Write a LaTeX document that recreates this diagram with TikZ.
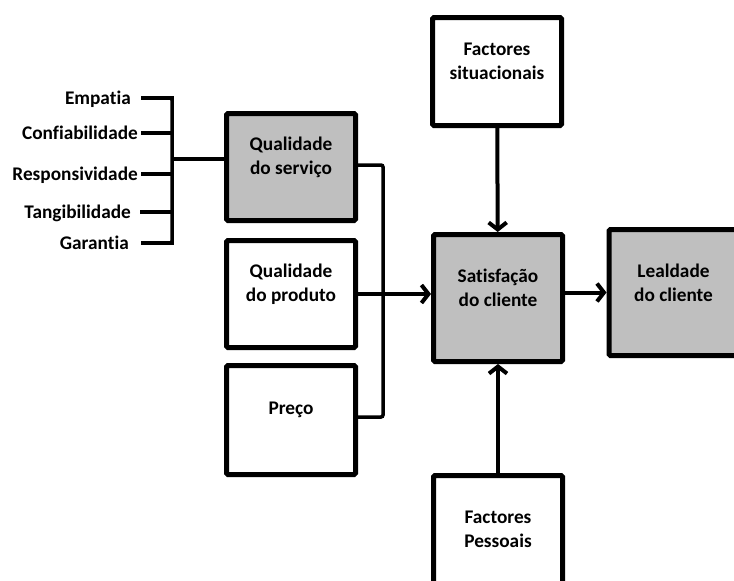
\documentclass[tikz,border=0pt]{standalone}
\usepackage{fontspec}
\setmainfont{Carlito}[Ligatures=NoCommon]
\usetikzlibrary{arrows.meta}
\definecolor{cinza}{HTML}{BFBFBF}
\tikzset{
	blk/.style={draw, line width=5pt, rounded corners=1.5pt, minimum width=129pt, minimum height=#1, inner sep=0pt},
	txt/.style={font=\bfseries\fontsize{19.3}{24}\selectfont, align=center, yshift=10pt},
	atrib/.style={font=\bfseries\fontsize{19.3}{24}\selectfont, anchor=east, inner sep=0pt, text height=14pt, text depth=2pt},
	brk/.style={line width=3.5pt, line cap=rect},
	seta/.style={line width=4pt, -{Straight Barb[length=7pt,width=18pt]}}
}
\begin{document}
\begin{tikzpicture}[x=1pt, y=-1pt]
	\useasboundingbox (0,0) rectangle (734,581);
	\clip (0,0) rectangle (734,581);
	% blocos
	\node[blk=108pt] (sit) at (497,71.5) [label={[txt]center:Factores\\situacionais}] {};
	\node[blk=107pt, fill=cinza] (serv) at (291,167) [label={[txt]center:Qualidade\\do serviço}] {};
	\node[blk=107pt] (prod) at (291,294) [label={[txt]center:Qualidade\\do produto}] {};
	\node[blk=109pt] (preco) at (291,420) [label={[txt]center:Preço}] {};
	\node[blk=127pt, fill=cinza] (sat) at (498,298) [label={[txt]center:Satisfação\\do cliente}] {};
	\node[blk=126pt, fill=cinza] (leal) at (673.5,292.5) [label={[txt]center:Lealdade\\do cliente}] {};
	\node[blk=127pt] (pess) at (498,539) [label={[txt]center:Factores\\Pessoais}] {};
	% dimensoes
	\coordinate (esp) at (172,159);
	\foreach \nome/\txt/\yy/\xe/\gap in {emp/Empatia/98/131/12, con/Confiabilidade/133/138/5, res/Responsividade/174/138/5, tan/Tangibilidade/212/131/11, gar/Garantia/243/129/14}{
		\node[atrib] (\nome) at (\xe,\yy) {\txt};
		\draw[brk] ([xshift=\gap pt]\nome.east) -- (\nome.east -| esp);
	}
	\draw[brk, line cap=butt, rounded corners=2pt] ([xshift=12pt]emp.east) -- (emp.east -| esp) -- (gar.east -| esp) -- ([xshift=14pt]gar.east);
	\draw[brk, line cap=butt] (esp) -- (serv.west |- esp);
	% ligacoes
	\draw[line width=3.5pt, rounded corners=2pt] ([yshift=2pt]serv.east) -- ++(25,0) |- ([yshift=3pt]preco.east);
	\draw[seta] (prod.east) -- (prod.east -| sat.west);
	\draw[seta] (sit) -- (sat);
	\draw[seta] (pess) -- (sat);
	\draw[seta] (sat.east |- leal.west) -- (leal.west);
\end{tikzpicture}
\end{document}
